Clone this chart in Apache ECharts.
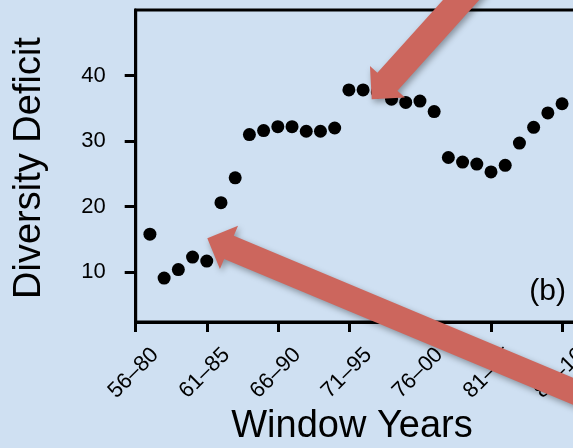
<!DOCTYPE html>
<html>
<head>
<meta charset="utf-8">
<script src="https://cdn.jsdelivr.net/npm/echarts@6/dist/echarts.min.js"></script>
<style>
  html, body { margin: 0; padding: 0; background: #cfe0f2; overflow: hidden; }
  #chart { width: 573px; height: 448px; }
</style>
</head>
<body>
<div id="chart"></div>
<script>
// 25-year windows, identified by their first year (57 -> 1957–1981)
const windowStart = [57, 58, 59, 60, 61, 62, 63, 64, 65, 66, 67, 68, 69, 70, 71,
                     72, 73, 74, 75, 76, 77, 78, 79, 80, 81, 82, 83, 84, 85, 86];
const deficit = [15.8, 9.1, 10.4, 12.3, 11.7, 20.6, 24.4, 31.0, 31.6, 32.2, 32.2, 31.5, 31.5, 32.0, 37.8,
                 37.8, 37.5, 36.4, 35.9, 36.1, 34.5, 27.5, 26.8, 26.5, 25.3, 26.3, 29.7, 32.1, 34.3, 35.7];

const xTickValues = [56, 61, 66, 71, 76, 81, 86];
const xTickLabels = ['56–80', '61–85', '66–90', '71–95', '76–00', '81–05', '86–10'];
const yTickValues = [10, 20, 30, 40];

const FONT = 'Liberation Sans, Arial, Helvetica, sans-serif';
const ARROW_COLOR = '#cc665d';

// Block arrow polygon: tip, direction from tip toward tail (degrees), total length,
// shaft width, head length and head half-width.
function arrowShape(tip, angleDeg, len, shaftW, headL, headHW) {
  const a = angleDeg * Math.PI / 180;
  const u = [Math.cos(a), Math.sin(a)];
  const n = [-u[1], u[0]];
  const p = (t, s) => [tip[0] + u[0] * t + n[0] * s, tip[1] + u[1] * t + n[1] * s];
  return [
    tip,
    p(headL, headHW),
    p(headL, shaftW / 2),
    p(len, shaftW / 2),
    p(len, -shaftW / 2),
    p(headL, -shaftW / 2),
    p(headL, -headHW)
  ];
}

function arrow(tip, angleDeg, len, shaftW) {
  return {
    type: 'polygon',
    z: 100,
    shape: { points: arrowShape(tip, angleDeg, len, shaftW, 23.5, 23.5) },
    style: {
      fill: ARROW_COLOR,
      shadowColor: 'rgba(0,0,0,0.35)',
      shadowBlur: 6,
      shadowOffsetX: 2,
      shadowOffsetY: 3
    }
  };
}

const tickLabelStyle = {
  color: '#000',
  fontSize: 22,
  fontFamily: FONT
};

const chart = echarts.init(document.getElementById('chart'), null, { renderer: 'canvas' });

chart.setOption({
  backgroundColor: '#cfe0f2',
  animation: false,
  textStyle: { fontFamily: FONT },
  grid: {
    left: 135.7,
    top: 10,
    width: 469,
    height: 312,
    outerBoundsMode: 'none',
    containLabel: false,
    show: true,
    backgroundColor: 'transparent',
    borderColor: '#000',
    borderWidth: 3
  },
  xAxis: {
    type: 'value',
    min: 56,
    max: 89,
    splitLine: { show: false },
    axisLine: { show: true, onZero: false, lineStyle: { color: '#000', width: 3 } },
    axisTick: {
      show: true, inside: false, length: 10,
      customValues: xTickValues,
      lineStyle: { color: '#000', width: 3 }
    },
    axisLabel: Object.assign({
      customValues: xTickValues,
      formatter: v => xTickLabels[xTickValues.indexOf(v)] || '',
      rotate: 45,
      align: 'center',
      verticalAlign: 'middle',
      margin: 49,
      padding: [0, 6, 6, 0]
    }, tickLabelStyle)
  },
  yAxis: {
    type: 'value',
    min: 2.4,
    max: 50,
    splitLine: { show: false },
    axisLine: { show: true, onZero: false, lineStyle: { color: '#000', width: 3 } },
    axisTick: {
      show: true, inside: false, length: 11,
      customValues: yTickValues,
      lineStyle: { color: '#000', width: 3 }
    },
    axisLabel: Object.assign({
      customValues: yTickValues,
      margin: 30
    }, tickLabelStyle)
  },
  series: [{
    type: 'scatter',
    symbol: 'circle',
    symbolSize: 13,
    itemStyle: { color: '#000', opacity: 1 },
    data: windowStart.map((w, i) => [w, deficit[i]])
  }],
  graphic: [
    {
      type: 'text',
      x: 30, y: 168,
      rotation: Math.PI / 2,
      style: {
        text: 'Diversity Deficit',
        fontSize: 38,
        fontFamily: FONT,
        fill: '#000',
        align: 'center',
        verticalAlign: 'middle'
      }
    },
    {
      type: 'text',
      x: 352, y: 427,
      style: {
        text: 'Window Years',
        fontSize: 38,
        fontFamily: FONT,
        fill: '#000',
        align: 'center',
        verticalAlign: 'middle'
      }
    },
    {
      type: 'text',
      x: 566, y: 292,
      style: {
        text: '(b)',
        fontSize: 30,
        fontFamily: FONT,
        fill: '#000',
        align: 'right',
        verticalAlign: 'middle'
      }
    },
    arrow([371.7, 99.3], -48, 190, 27),
    arrow([207.3, 238.3], 22.7, 460, 25)
  ]
});
</script>
</body>
</html>
